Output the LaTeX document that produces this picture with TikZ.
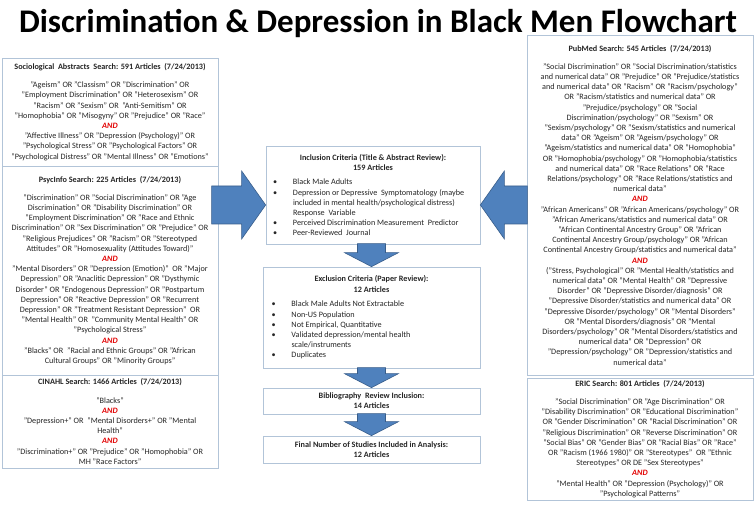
\documentclass[tikz,border=0pt]{standalone}
\usepackage{fontspec}
\setmainfont{Carlito}
\definecolor{boxline}{RGB}{178,196,216}
\definecolor{arrowfill}{RGB}{79,129,189}
\definecolor{arrowline}{RGB}{56,93,138}
\definecolor{andred}{RGB}{226,0,0}
\newcommand\AND{\textcolor{andred}{\bfseries\itshape AND}}
\newcommand\bul{\makebox[20pt][l]{•}}
\newcommand\ind{\hspace*{20pt}}
\newcommand\dnblock[2]{\draw[blockarrow] (#1) -- ++(-27,14) -- ++(13,0) -- ++(0,#2-14) -- ++(28,0) -- ++(0,-#2+14) -- ++(13,0) -- cycle;}
\begin{document}
\begin{tikzpicture}[x=1pt,y=1pt,
  box/.style={draw=boxline, line width=0.7pt, fill=white, align=center, inner sep=2pt, text=black!85, font=\fontsize{8.2}{10.2}\selectfont},
  blockarrow/.style={draw=arrowline, fill=arrowfill, line width=0.6pt, line join=miter}
]
\useasboundingbox (0,0) rectangle (756,517);

\node[font=\fontsize{33}{37}\selectfont\bfseries] (title) at (378,494) {Discrimination \& Depression in Black Men Flowchart};

% left column
\node[box, minimum width=216pt, minimum height=108pt] (soc) at (110,405) {\textbf{Sociological\ \ Abstracts\ \ Search: 591 Articles\ \ (7/24/2013)}\\[8pt]
"Ageism" OR "Classism" OR "Discrimination" OR\\
"Employment Discrimination" OR "Heterosexism" OR\\
"Racism" OR "Sexism" OR\ \ "Anti-Semitism" OR\\
"Homophobia" OR "Misogyny" OR "Prejudice" OR "Race"\\
\AND\\
"Affective Illness" OR "Depression (Psychology)" OR\\
"Psychological Stress" OR "Psychological Factors" OR\\
"Psychological Distress" OR "Mental Illness" OR "Emotions"};

\node[box, minimum width=216pt, minimum height=209pt] (psyc) at (110,246.5) {\textbf{PsycInfo Search: 225 Articles\ \ (7/24/2013)}\\[8pt]
"Discrimination" OR "Social Discrimination" OR "Age\\
Discrimination" OR "Disability Discrimination" OR\\
"Employment Discrimination" OR "Race and Ethnic\\
Discrimination" OR "Sex Discrimination" OR "Prejudice" OR\\
"Religious Prejudices" OR "Racism" OR "Stereotyped\\
Attitudes" OR "Homosexuality (Attitudes Toward)"\\
\AND\\
"Mental Disorders" OR "Depression (Emotion)"\ \ OR "Major\\
Depression" OR "Anaclitic Depression" OR "Dysthymic\\
Disorder" OR "Endogenous Depression" OR "Postpartum\\
Depression" OR "Reactive Depression" OR "Recurrent\\
Depression" OR "Treatment Resistant Depression"\ \ OR\\
"Mental Health" OR\ \ "Community Mental Health" OR\\
"Psychological Stress"\\
\AND\\
"Blacks" OR\ \ "Racial and Ethnic Groups" OR "African\\
Cultural Groups" OR "Minority Groups"};

\node[box, minimum width=216pt, minimum height=93pt] (cin) at (110,95.5) {\textbf{CINAHL Search: 1466 Articles\ \ (7/24/2013)}\\[8pt]
"Blacks"\\
\AND\\
"Depression+" OR\ \ "Mental Disorders+" OR "Mental\\
Health"\\
\AND\\
"Discrimination+" OR "Prejudice" OR "Homophobia" OR\\
MH "Race Factors"};

% right column
\node[box, minimum width=226pt, minimum height=340pt] (pub) at (640,312) {\textbf{PubMed Search: 545 Articles\ \ (7/24/2013)}\\[8pt]
"Social Discrimination" OR "Social Discrimination/statistics\\
and numerical data" OR "Prejudice" OR "Prejudice/statistics\\
and numerical data" OR "Racism" OR "Racism/psychology"\\
OR "Racism/statistics and numerical data" OR\\
"Prejudice/psychology" OR "Social\\
Discrimination/psychology" OR "Sexism" OR\\
"Sexism/psychology" OR "Sexism/statistics and numerical\\
data" OR "Ageism" OR "Ageism/psychology" OR\\
"Ageism/statistics and numerical data" OR "Homophobia"\\
OR "Homophobia/psychology" OR "Homophobia/statistics\\
and numerical data" OR "Race Relations" OR "Race\\
Relations/psychology" OR "Race Relations/statistics and\\
numerical data"\\
\AND\\
"African Americans" OR "African Americans/psychology" OR\\
"African Americans/statistics and numerical data" OR\\
"African Continental Ancestry Group" OR "African\\
Continental Ancestry Group/psychology" OR "African\\
Continental Ancestry Group/statistics and numerical data"\\
\AND\\
("Stress, Psychological" OR "Mental Health/statistics and\\
numerical data" OR "Mental Health" OR "Depressive\\
Disorder" OR "Depressive Disorder/diagnosis" OR\\
"Depressive Disorder/statistics and numerical data" OR\\
"Depressive Disorder/psychology" OR "Mental Disorders"\\
OR "Mental Disorders/diagnosis" OR "Mental\\
Disorders/psychology" OR "Mental Disorders/statistics and\\
numerical data" OR "Depression" OR\\
"Depression/psychology" OR "Depression/statistics and\\
numerical data"};

\node[box, minimum width=226pt, minimum height=122pt] (eric) at (640,78) {\textbf{ERIC Search: 801 Articles\ \ (7/24/2013)}\\[8pt]
"Social Discrimination" OR "Age Discrimination" OR\\
"Disability Discrimination" OR "Educational Discrimination"\\
OR "Gender Discrimination" OR "Racial Discrimination" OR\\
"Religious Discrimination" OR "Reverse Discrimination" OR\\
"Social Bias" OR "Gender Bias" OR "Racial Bias" OR "Race"\\
OR "Racism (1966 1980)" OR "Stereotypes"\ \ OR "Ethnic\\
Stereotypes" OR DE "Sex Stereotypes"\\
\AND\\
"Mental Health" OR "Depression (Psychology)" OR\\
"Psychological Patterns"};

% centre column
\node[box, minimum width=214pt, minimum height=98pt] (incl) at (373,322) {\textbf{Inclusion Criteria (Title \& Abstract Review):}\\\textbf{159 Articles}\\[8pt]
\begin{minipage}{200pt}\raggedright
\bul Black Male Adults\\
\bul Depression or Depressive\ \ Symptomatology (maybe\\
\ind included in mental health/psychological distress)\\
\ind Response\ \ Variable\\
\bul Perceived Discrimination Measurement\ \ Predictor\\
\bul Peer-Reviewed\ \ Journal
\end{minipage}};

\node[box, minimum width=217pt, minimum height=101pt] (excl) at (371.5,199.5) {\textbf{Exclusion Criteria (Paper Review):}\\\textbf{12 Articles}\\[8pt]
\begin{minipage}{200pt}\raggedright
\bul Black Male Adults Not Extractable\\
\bul Non-US Population\\
\bul Not Empirical, Quantitative\\
\bul Validated depression/mental health\\
\ind scale/instruments\\
\bul Duplicates
\end{minipage}};

\node[box, minimum width=217pt, minimum height=26pt] (bib) at (371.5,116) {\textbf{Bibliography\ \ Review Inclusion:}\\\textbf{14 Articles}};

\node[box, minimum width=217pt, minimum height=27pt] (final) at (371.5,67.5) {\textbf{Final Number of Studies Included in Analysis:}\\\textbf{12 Articles}};

% block arrows
\draw[blockarrow] ([yshift=-10pt]incl.west) -- ++(-24,34) -- ++(0,-15) -- ++(-30,0) -- ++(0,-38) -- ++(30,0) -- ++(0,-15) -- cycle;
\draw[blockarrow] ([yshift=-10pt]incl.east) -- ++(24,34) -- ++(0,-15) -- ++(23,0) -- ++(0,-38) -- ++(-23,0) -- ++(0,-15) -- cycle;
\dnblock{excl.north}{23}
\dnblock{bib.north}{20}
\dnblock{final.north}{22}
\end{tikzpicture}
\end{document}
